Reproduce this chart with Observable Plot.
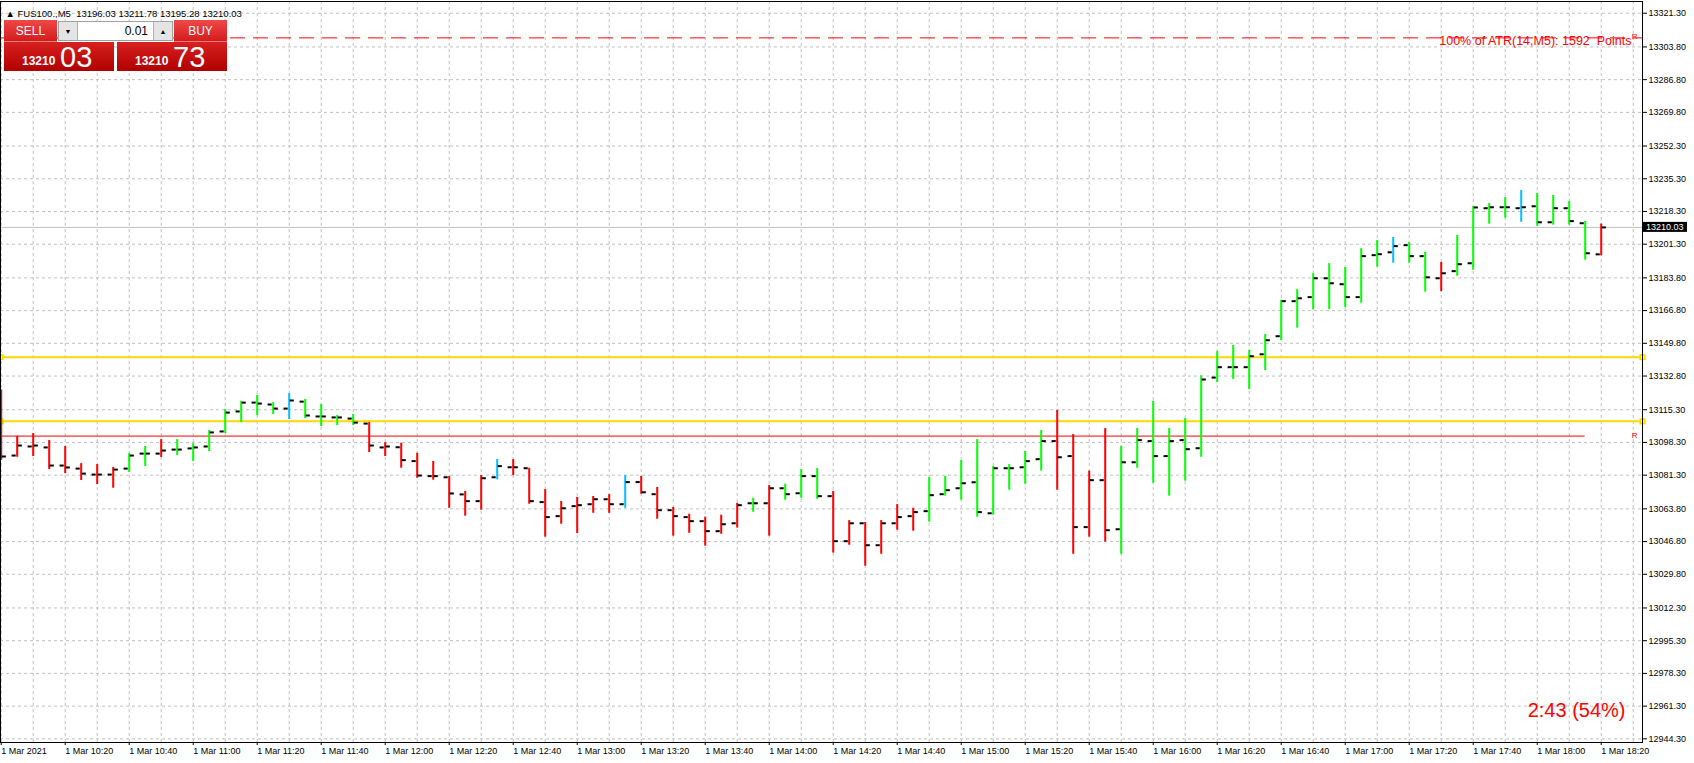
<!DOCTYPE html>
<html><head><meta charset="utf-8">
<script src="https://cdn.jsdelivr.net/npm/d3@7"></script>
<script src="https://cdn.jsdelivr.net/npm/@observablehq/plot@0.6"></script>
<style>
body{margin:0;background:#fff;overflow:hidden}
#wrap{position:relative;width:1694px;height:763px;background:#fff}
#wrap svg text{white-space:pre}
.p{position:absolute;font-family:"Liberation Sans",Arial,sans-serif;color:#fff;box-sizing:border-box;line-height:1}
</style></head><body><div id="wrap"></div>
<script>
// ---------- data ----------
const symbol = "FUS100.,M5";
const barTimes = [
"10:00","10:05","10:10","10:15","10:20","10:25","10:30","10:35","10:40","10:45","10:50","10:55",
"11:00","11:05","11:10","11:15","11:20","11:25","11:30","11:35","11:40","11:45","11:50","11:55",
"12:00","12:05","12:10","12:15","12:20","12:25","12:30","12:35","12:40","12:45","12:50","12:55",
"13:00","13:05","13:10","13:15","13:20","13:25","13:30","13:35","13:40","13:45","13:50","13:55",
"14:00","14:05","14:10","14:15","14:20","14:25","14:30","14:35","14:40","14:45","14:50","14:55",
"15:00","15:05","15:10","15:15","15:20","15:25","15:30","15:35","15:40","15:45","15:50","15:55",
"16:00","16:05","16:10","16:15","16:20","16:25","16:30","16:35","16:40","16:45","16:50","16:55",
"17:00","17:05","17:10","17:15","17:20","17:25","17:30","17:35","17:40","17:45","17:50","17:55",
"18:00","18:05","18:10","18:15","18:20"];
const opens = [
13110.0,13091.5,13096.2,13095.7,13086.3,13084.7,13081.6,13081.6,13084.7,13092.5,13092.5,13094.6,
13095.2,13096.2,13104.0,13114.4,13119.0,13118.0,13115.9,13119.5,13111.8,13111.3,13110.7,13108.1,
13095.7,13095.8,13088.6,13080.8,13080.2,13071.3,13067.8,13080.2,13085.4,13084.9,13067.3,13060.0,
13065.2,13066.2,13068.8,13066.2,13077.7,13071.4,13063.1,13059.5,13057.4,13052.2,13056.3,13066.7,
13066.7,13074.5,13071.9,13080.8,13070.4,13047.0,13056.3,13044.9,13056.3,13060.0,13062.6,13071.4,
13074.5,13077.6,13061.5,13084.9,13085.4,13089.6,13099.0,13091.2,13054.3,13078.7,13053.2,13088.0,
13099.0,13091.2,13099.5,13095.3,13132.0,13137.4,13137.4,13144.1,13153.5,13171.7,13173.8,13183.6,
13180.5,13173.8,13195.6,13197.1,13200.8,13195.1,13183.6,13187.3,13191.4,13220.0,13220.5,13220.0,
13221.0,13212.7,13220.0,13212.2,13196.03];
const highs = [
13125.6,13101.5,13102.9,13099.3,13096.2,13087.3,13086.8,13085.3,13092.5,13096.2,13099.8,13099.8,
13097.7,13104.5,13115.4,13119.6,13122.7,13119.0,13123.7,13120.6,13118.0,13112.3,13112.8,13108.6,
13098.2,13097.9,13092.7,13088.4,13080.6,13072.8,13081.1,13089.4,13089.4,13084.9,13073.8,13067.6,
13069.7,13070.2,13071.2,13081.1,13080.6,13074.9,13064.5,13061.0,13059.5,13060.5,13066.7,13069.3,
13075.9,13076.6,13084.2,13084.7,13072.8,13057.7,13056.7,13057.7,13066.0,13064.1,13080.1,13080.6,
13088.9,13099.8,13085.8,13086.8,13093.6,13104.5,13114.9,13102.4,13083.4,13105.5,13096.2,13105.5,
13119.6,13105.5,13110.7,13132.9,13145.5,13148.7,13146.1,13154.4,13172.2,13177.7,13186.0,13191.2,
13189.2,13199.0,13203.2,13204.8,13202.2,13197.0,13191.8,13205.8,13220.9,13222.4,13225.5,13229.2,
13227.6,13226.6,13223.5,13213.1,13211.78];
const lows = [
13088.9,13090.6,13091.0,13084.2,13082.1,13078.5,13076.4,13074.5,13082.7,13085.8,13090.5,13091.5,
13088.4,13093.6,13102.9,13108.6,13112.3,13112.8,13110.2,13110.7,13106.6,13107.1,13107.1,13093.1,
13091.0,13084.9,13079.7,13078.7,13064.1,13060.0,13063.1,13078.9,13081.1,13066.2,13049.1,13055.8,
13051.0,13061.5,13061.5,13064.1,13071.4,13058.4,13049.6,13051.1,13044.4,13050.6,13053.8,13062.0,
13049.6,13068.3,13069.3,13068.8,13040.8,13044.9,13034.0,13040.2,13052.7,13052.2,13056.9,13070.4,
13068.3,13059.5,13060.5,13073.5,13076.6,13083.4,13073.5,13040.2,13049.1,13046.5,13040.2,13084.9,
13077.1,13070.4,13078.2,13090.6,13129.4,13131.0,13125.8,13135.7,13151.2,13157.7,13167.3,13167.3,
13168.4,13170.6,13189.4,13191.4,13191.4,13176.4,13176.7,13184.7,13187.8,13211.7,13214.8,13212.7,
13210.6,13211.2,13211.2,13193.0,13195.28];
const closes = [
13091.0,13096.7,13096.7,13086.3,13085.3,13082.1,13081.6,13084.2,13091.5,13092.5,13094.1,13094.6,
13095.7,13103.5,13113.8,13119.0,13118.5,13115.9,13120.1,13112.3,13111.8,13111.3,13108.6,13096.7,
13096.2,13089.1,13081.1,13080.8,13071.8,13067.8,13079.7,13086.0,13085.4,13067.8,13059.5,13064.1,
13065.7,13068.8,13066.2,13077.7,13072.4,13063.1,13060.0,13057.4,13052.2,13055.8,13065.7,13066.7,
13074.5,13071.4,13080.8,13070.4,13047.0,13056.3,13044.9,13056.3,13059.5,13062.1,13070.9,13073.5,
13077.1,13062.1,13084.9,13084.9,13088.6,13099.0,13090.6,13054.3,13078.7,13052.7,13088.0,13099.5,
13091.2,13099.0,13094.8,13131.0,13137.4,13137.4,13143.1,13151.4,13171.7,13173.2,13183.6,13181.0,
13173.8,13195.1,13196.1,13200.3,13195.1,13184.1,13186.2,13190.9,13220.4,13220.5,13220.5,13220.5,
13212.7,13220.0,13213.3,13196.6,13210.03];
// indicator colour of each bar: r = red, g = green, b = blue
const barColors =
"rrrrrrrrggrggggggg" + "bggggrr" +
"rrrrrrbrrrrrrrbrrrrrrrgrgg" +
"grrrrrrggggggggrrrrggggg" +
"ggggggggggggbggrggggbggggr";
const colorOf = {r: "#ff0000", g: "#00ff00", b: "#00bfff"};

const yTickValues = [13321.30,13303.80,13286.80,13269.80,13252.30,13235.30,13218.30,13201.30,
  13183.80,13166.80,13149.80,13132.80,13115.30,13098.30,13081.30,13063.80,13046.80,13029.80,
  13012.30,12995.30,12978.30,12961.30,12944.30];
const xTickTimes = ["10:00","10:20","10:40","11:00","11:20","11:40","12:00","12:20","12:40",
  "13:00","13:20","13:40","14:00","14:20","14:40","15:00","15:20","15:40","16:00","16:20",
  "16:40","17:00","17:20","17:40","18:00","18:20"];
const xTickLabels = ["1 Mar 2021","1 Mar 10:20","1 Mar 10:40","1 Mar 11:00","1 Mar 11:20",
  "1 Mar 11:40","1 Mar 12:00","1 Mar 12:20","1 Mar 12:40","1 Mar 13:00","1 Mar 13:20",
  "1 Mar 13:40","1 Mar 14:00","1 Mar 14:20","1 Mar 14:40","1 Mar 15:00","1 Mar 15:20",
  "1 Mar 15:40","1 Mar 16:00","1 Mar 16:20","1 Mar 16:40","1 Mar 17:00","1 Mar 17:20",
  "1 Mar 17:40","1 Mar 18:00","1 Mar 18:20"];
const gridTimes = ["10:00","10:10","10:20","10:30","10:40","10:50","11:00","11:10","11:20","11:30",
  "11:40","11:50","12:00","12:10","12:20","12:30","12:40","12:50","13:00","13:10","13:20","13:30",
  "13:40","13:50","14:00","14:10","14:20","14:30","14:40","14:50","15:00","15:10","15:20","15:30",
  "15:40","15:50","16:00","16:10","16:20","16:30","16:40","16:50","17:00","17:10","17:20","17:30",
  "17:40","17:50","18:00","18:10","18:20","18:30"];

const atrLevel = 13308.5;
const atrText = "100% of ATR(14,M5): 1592  Points";
const yellowLevels = [13142.6, 13109.3];
const redLevel = 13101.6;
const redLevelEnd = "18:15";
const timerText = "2:43 (54%)";
const lotSize = "0.01";
const sellPrice = "13210.03";
const buyPrice = "13210.73";

// ---------- build ----------
const toMin = s => { const [h, m] = s.split(":").map(Number); return h * 60 + m - 600; };
const bars = barTimes.map((t, i) => ({
  m: toMin(t), open: opens[i], high: highs[i], low: lows[i], close: closes[i], c: barColors[i]
}));
const last = bars[bars.length - 1];
const xDomain = [-0.22, 512.9];
const yDomain = [12942.4, 13327.4];
const tickW = 1.3, tickGap = 0.3; // minutes

const header = "\u25B2 " + symbol + "  " + [last.open, last.high, last.low, last.close].map(v => v.toFixed(2)).join(" ");

const chart = Plot.plot({
  width: 1694, height: 763,
  marginLeft: 0, marginRight: 52, marginTop: 1, marginBottom: 21,
  style: {fontFamily: "'Liberation Sans', Arial, sans-serif", fontSize: "9px", background: "white", color: "black"},
  x: {domain: xDomain, axis: null},
  y: {domain: yDomain, axis: null},
  marks: [
    Plot.gridY(yTickValues, {stroke: "#c0c0c0", strokeOpacity: 1, strokeDasharray: "3,3"}),
    Plot.gridX(gridTimes.map(toMin), {stroke: "#c0c0c0", strokeOpacity: 1, strokeDasharray: "3,3"}),
    Plot.ruleY([last.close], {stroke: "#c0c0c0", strokeWidth: 1}),
    Plot.ruleY([atrLevel], {stroke: "#ff0000", strokeWidth: 1, strokeDasharray: "15,8"}),
    Plot.ruleY(yellowLevels, {stroke: "#ffd700", strokeWidth: 2}),
    Plot.ruleY([{y: redLevel, x1: xDomain[0], x2: toMin(redLevelEnd)}], {y: "y", x1: "x1", x2: "x2", stroke: "#ff0000", strokeWidth: 1}),
    Plot.dot(yellowLevels.flatMap(v => [{x: xDomain[0], y: v}, {x: xDomain[1], y: v}]),
      {x: "x", y: "y", symbol: "square", r: 2.6, fill: "white", stroke: "#ffd700", strokeWidth: 1.6}),
    Plot.ruleX(bars, {x: "m", y1: "low", y2: "high", stroke: d => colorOf[d.c], strokeWidth: 2, clip: true}),
    Plot.ruleY(bars, {y: "open", x1: d => d.m - tickW - tickGap, x2: d => d.m - tickGap, stroke: "black", strokeWidth: 2, clip: true}),
    Plot.ruleY(bars, {y: "close", x1: d => d.m + tickGap, x2: d => d.m + tickGap + tickW, stroke: "black", strokeWidth: 2, clip: true}),
    Plot.text([atrText], {x: xDomain[1], y: atrLevel, textAnchor: "end", dx: -11, dy: 3, fill: "#ff0000", fontSize: 12.5}),
    Plot.text(["R"], {x: xDomain[1], y: atrLevel, textAnchor: "end", dx: -5, dy: -1, fill: "#ff0000", fontSize: 8}),
    Plot.text(["R"], {x: xDomain[1], y: redLevel, textAnchor: "end", dx: -5, dy: -1, fill: "#ff0000", fontSize: 8}),
    Plot.text([timerText], {frameAnchor: "bottom-right", textAnchor: "end", dx: -17, dy: -26, fill: "#ff0000", fontSize: 20}),
    Plot.text([header], {frameAnchor: "top-left", textAnchor: "start", dx: 5, dy: 9, fill: "black", fontSize: 9.5}),
    Plot.axisY(yTickValues, {anchor: "right", tickFormat: d => d.toFixed(2), tickSize: 4, tickPadding: 2, fontSize: 9}),
    Plot.axisX(xTickTimes.map(toMin), {anchor: "bottom", tickFormat: (d, i) => xTickLabels[i], tickSize: 3, tickPadding: 2, textAnchor: "start", fontSize: 9}),
    Plot.frame({stroke: "black"})
  ]
});

const wrap = document.getElementById("wrap");
wrap.append(chart);

// current price label on the price axis
const svg = d3.select(chart);
const yS = chart.scale("y"), xS = chart.scale("x");
const yp = yS.apply(last.close), xr = xS.apply(xDomain[1]);
const g = svg.append("g").attr("text-anchor", "start");
g.append("rect").attr("x", xr + 1).attr("y", yp - 5).attr("width", 44).attr("height", 10).attr("fill", "black");
g.append("text").attr("x", xr + 4).attr("y", yp + 3.3).attr("text-anchor", "start")
  .attr("fill", "white").attr("font-size", 9).text(last.close.toFixed(2));

// one-click trading panel
function box(css, html) {
  const d = document.createElement("div");
  d.className = "p"; d.style.cssText = css; d.innerHTML = html; wrap.append(d); return d;
}
const redTop = "background:linear-gradient(#f04848,#d41c1c);";
const redLow = "background:linear-gradient(#d82020,#b00000);";
box(`left:4px;top:20px;width:53px;height:22px;${redTop}border-bottom:1px solid #f08080;font-size:12px;display:flex;align-items:center;justify-content:center;`, "SELL");
box(`left:174px;top:20px;width:53px;height:22px;${redTop}border-bottom:1px solid #f08080;font-size:12px;display:flex;align-items:center;justify-content:center;`, "BUY");
box(`left:58px;top:21px;width:115px;height:20px;border:1px solid #a0a0a0;background:#fff;`, "");
box(`left:59px;top:22px;width:19px;height:18px;background:#e4e4e4;border-right:1px solid #b0b0b0;color:#000;font-size:7px;display:flex;align-items:center;justify-content:center;`, "\u25BC");
box(`left:153px;top:22px;width:19px;height:18px;background:#e4e4e4;border-left:1px solid #b0b0b0;color:#000;font-size:7px;display:flex;align-items:center;justify-content:center;`, "\u25B2");
box(`left:80px;top:22px;width:68px;height:18px;color:#000;font-size:12px;display:flex;align-items:center;justify-content:flex-end;`, lotSize);
function priceBox(left, price) {
  const [a, b] = price.split(".");
  box(`left:${left}px;top:42px;width:110px;height:29px;${redLow}`, "");
  box(`left:${left + 18}px;top:55px;font-size:12px;font-weight:bold;`, a);
  box(`left:${left + 56}px;top:43px;font-size:29px;font-weight:300;`, b);
}
priceBox(4, sellPrice);
priceBox(117, buyPrice);
</script>
</body></html>
